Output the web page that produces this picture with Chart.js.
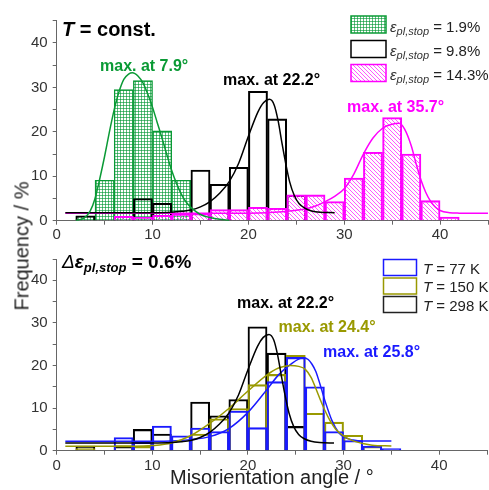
<!DOCTYPE html>
<html><head><meta charset="utf-8">
<script src="https://cdn.jsdelivr.net/npm/chart.js@4.4.0/dist/chart.umd.min.js"></script>
<style>
html,body{margin:0;padding:0;background:#fff;width:489px;height:490px;overflow:hidden}
#wrap{position:relative;width:489px;height:490px}
#c1{position:absolute;left:0;top:0;width:489px;height:245px}
#c2{position:absolute;left:0;top:245px;width:489px;height:245px}
#ytitle{position:absolute;left:22px;top:246px;transform:translate(-50%,-50%) rotate(-90deg);font:20px "Liberation Sans",Arial,sans-serif;color:#222;white-space:nowrap}
</style></head>
<body><div id="wrap">
<canvas id="c1" width="489" height="245"></canvas>
<canvas id="c2" width="489" height="245"></canvas>
<div id="ytitle">Frequency / %</div>
</div>
<script>
// ---------- DATA ----------
const binCenters = [1,3,5,7,9,11,13,15,17,19,21,23,25,27,29,31,33,35,37,39,41];
// top panel (T = const.)
const green1_9  = [null,1.0,9.1,29.5,31.5,20.2,9.1,null,null,null,null,null,null,null,null,null,null,null,null,null,null];
const black9_8  = [null,1.1,null,1.0,5.0,3.9,null,11.4,8.2,12.0,29.1,22.9,5.7,null,null,null,null,null,null,null,null];
const mag14_3   = [null,null,null,1.0,0.8,1.2,1.5,1.6,2.5,2.5,3.0,2.8,5.8,5.8,4.3,9.6,15.4,23.2,15.0,4.5,0.8];
// bottom panel (delta eps = 0.6%)
const blue77    = [null,null,null,3.1,2.0,5.8,3.5,5.3,4.5,9.3,5.4,16.2,21.9,15.0,4.5,2.4,1.1,0.5,null,null,null];
const olive150  = [null,0.5,null,1.2,1.0,null,null,3.9,7.5,9.9,15.5,17.9,22.4,8.8,6.7,3.6,1.0,null,null,null,null];
const black298  = black9_8;

// fit curves
const greenFitX = [2.0,2.8,3.5,4.0,4.5,5.0,5.5,6.0,6.5,7.0,7.5,7.9,8.5,9.0,9.5,10.0,10.5,11.0,11.5,12.0,12.5,13.0,13.5,14.0,14.5,15.0,16.0,17.0,18.0];
const greenFitY = [0.1,0.5,2.2,5.0,9.5,14.5,20.0,25.0,29.0,31.8,33.0,33.3,32.5,31.0,28.5,25.5,22.0,18.5,14.8,11.3,8.4,6.0,4.2,3.0,2.1,1.4,0.7,0.3,0.1];
const blackFitX = [0.9,5,10,12,13,14,15,16,17,18,19,20,21,21.6,22.2,22.7,23.1,23.5,23.9,24.3,24.8,25.3,25.9,26.6,27.5,29.0];
const blackFitY = [1.8,1.8,1.8,1.9,2.1,2.4,3.1,4.3,6.2,8.8,13.0,19.0,24.5,26.6,27.3,26.0,22.5,17.5,12.8,8.8,5.6,3.8,2.8,2.2,1.9,1.8];
const magFitX   = [0.9,10,20,22,24,26,27,28,29,30,31,32,33,34,35,35.7,36.3,37,37.5,38,38.5,39,39.5,40,41,42,45];
const magFitY   = [1.65,1.65,1.7,1.8,2.1,2.7,3.3,4.3,5.5,7.2,10.5,15.0,18.6,20.8,21.7,21.9,20.6,16.8,12.8,9.2,6.4,4.4,3.1,2.3,1.8,1.7,1.65];
const blueFitX  = [0.9,8,12,14,16,18,20,22,23.2,24.6,25.3,25.8,26.3,26.7,27.1,27.4,28.1,28.8,29.5,30.2,31,32,35];
const blueFitY  = [2.2,2.2,2.3,2.6,3.3,5.2,9.0,14.4,17.8,20.5,21.5,21.8,21.4,20.3,18.6,16.6,11.4,7.0,4.2,3.0,2.5,2.3,2.3];
const oliveFitX = [0.9,8,10,12,14,16,18,20,22,23.2,24.4,25.3,26.0,26.6,27.1,27.6,28.1,28.6,29.2,30,31,32,33,35];
const oliveFitY = [1.05,1.05,1.2,1.8,3.5,6.4,9.9,14.0,17.8,19.4,20.0,19.8,19.1,17.2,14.6,11.8,9.2,7.0,5.0,3.5,2.3,1.7,1.3,1.1];

const xTicksMajor = [0,10,20,30,40];
const yTicksMajor = [0,10,20,30,40];

// ---------- STYLE ----------
const FONT = '"Liberation Sans", Arial, Helvetica, sans-serif';
const GREEN = '#0a9a35', MAG = '#ff00ff', BLUE = '#1a1aff', OLIVE = '#999900', BLACK = '#000';
Chart.defaults.font.family = FONT;

function pts(xs, ys){ return xs.map((x,i)=>({x:x, y:ys[i]})); }
function bars(vals){ return binCenters.map((c,i)=>({x:c, y:vals[i]})); }

function gridPattern(ctx){
  const c=document.createElement('canvas'); c.width=3; c.height=3;
  const g=c.getContext('2d');
  g.fillStyle='#ffffff'; g.fillRect(0,0,3,3);
  g.fillStyle='rgba(0,150,50,0.62)'; g.fillRect(0,0,3,1); g.fillRect(0,0,1,3);
  return ctx.createPattern(c,'repeat');
}
function hatchPattern(ctx){
  const c=document.createElement('canvas'); c.width=4; c.height=4;
  const g=c.getContext('2d');
  g.fillStyle='rgba(255,60,255,0.85)';
  for(let i=0;i<4;i++) g.fillRect(i,i,1,1);
  return ctx.createPattern(c,'repeat');
}

function barDs(vals, color, bg, order){
  return {type:'bar', data:bars(vals), backgroundColor:bg, borderColor:color, borderWidth:1.4,
    borderSkipped:'start', grouped:false, barPercentage:1, categoryPercentage:1, order:order};
}
function lineDs(xs, ys, color){
  return {type:'line', data:pts(xs,ys), borderColor:color, borderWidth:1.5, pointRadius:0,
    cubicInterpolationMode:'monotone', fill:false, order:0};
}

function scales(xAxisH, xTitle, tickPad){
  return {
    x:{type:'linear', min:0, max:45, offset:false,
       afterFit(s){ s.height = xAxisH; },
       ticks:{stepSize:5, includeBounds:false, autoSkip:false, maxRotation:0, padding:tickPad,
              color:'#333', font:{size:15, family:FONT},
              callback:v=> xTicksMajor.includes(v) ? String(v) : ''},
       grid:{drawOnChartArea:false, offset:false, tickLength:4, tickColor:'#666', tickWidth:1},
       border:{display:true, color:'#666', width:1},
       title:{display:!!xTitle, text:xTitle||'', color:'#222', font:{size:20, family:FONT}, padding:0}},
    y:{min:0, max:45,
       afterFit(s){ s.width = 56.7; },
       ticks:{stepSize:5, includeBounds:false, autoSkip:false, padding:5, color:'#333', font:{size:15, family:FONT},
              callback:v=> yTicksMajor.includes(v) ? String(v) : ''},
       grid:{drawOnChartArea:false, tickLength:4, tickColor:'#666', tickWidth:1},
       border:{display:true, color:'#666', width:1}}
  };
}

function rich(ctx, x, y, parts){
  let cx = x;
  ctx.textAlign='left'; ctx.textBaseline='alphabetic';
  for(const p of parts){
    ctx.font = p[1] + ' ' + FONT;
    ctx.fillStyle = p[2];
    ctx.fillText(p[0], cx, y + (p[3]||0));
    cx += ctx.measureText(p[0]).width;
  }
}

// ---------- TOP CHART ----------
const ctx1 = document.getElementById('c1').getContext('2d');
const gPat = gridPattern(ctx1), mPat = hatchPattern(ctx1);
const annotTop = {id:'annotTop', afterDraw(chart){
  const c = chart.ctx; c.save();
  rich(c, 62, 35.5, [['T','italic bold 20px',BLACK],[' = const.','bold 20px',BLACK]]);
  rich(c, 100, 70.5, [['max. at 7.9°','bold 16px',GREEN]]);
  rich(c, 223, 85, [['max. at 22.2°','bold 16px',BLACK]]);
  rich(c, 347, 111.5, [['max. at 35.7°','bold 16px',MAG]]);
  const rows = [[16, gPat, GREEN, '1.9%'], [40.5, null, BLACK, '9.8%'], [64.5, mPat, MAG, '14.3%']];
  for(const r of rows){
    if(r[1]){ c.fillStyle=r[1]; c.fillRect(351, r[0], 35, 17); }
    c.strokeStyle=r[2]; c.lineWidth=1.5; c.strokeRect(351, r[0], 35, 17);
    rich(c, 390, r[0]+15.5, [['ε','italic 15px','#333'],['pl,stop','italic 11px','#333',3],[' = '+r[3],'15px','#222']]);
  }
  c.restore();
}};
new Chart(ctx1, {
  type:'bar',
  data:{datasets:[
    lineDs(greenFitX, greenFitY, GREEN),
    lineDs(blackFitX, blackFitY, BLACK),
    lineDs(magFitX, magFitY, MAG),
    barDs(mag14_3, MAG, mPat, 1),
    barDs(black9_8, BLACK, 'rgba(0,0,0,0)', 2),
    barDs(green1_9, GREEN, gPat, 3)
  ]},
  options:{responsive:false, animation:false, devicePixelRatio:1,
    layout:{padding:{top:20.7, left:0, right:0, bottom:0}},
    plugins:{legend:{display:false}, tooltip:{enabled:false}, title:{display:false}},
    scales:scales(24.3, null, 1)},
  plugins:[annotTop]
});

// ---------- BOTTOM CHART ----------
const ctx2 = document.getElementById('c2').getContext('2d');
const OFF = 245;
const annotBot = {id:'annotBot', afterDraw(chart){
  const c = chart.ctx; c.save();
  rich(c, 62, 268.3-OFF, [['Δ','italic 19px',BLACK],['ε','italic bold 19px',BLACK],['pl,stop','italic bold 13px',BLACK,4],[' = 0.6%','bold 19px',BLACK]]);
  rich(c, 237, 307.5-OFF, [['max. at 22.2°','bold 16px',BLACK]]);
  rich(c, 278.5, 331.5-OFF, [['max. at 24.4°','bold 16px',OLIVE]]);
  rich(c, 323, 357-OFF, [['max. at 25.8°','bold 16px',BLUE]]);
  const rows = [[259.5, BLUE, '77 K'], [278, OLIVE, '150 K'], [296.5, '#222', '298 K']];
  for(const r of rows){
    c.strokeStyle=r[1]; c.lineWidth=1.5; c.strokeRect(383.5, r[0]-OFF, 33, 16);
    rich(c, 423, r[0]-OFF+14, [['T','italic 15px','#222'],[' = '+r[2],'15px','#222']]);
  }
  c.restore();
}};
new Chart(ctx2, {
  type:'bar',
  data:{datasets:[
    lineDs(blackFitX, blackFitY, BLACK),
    lineDs(oliveFitX, oliveFitY, OLIVE),
    lineDs(blueFitX, blueFitY, BLUE),
    barDs(blue77, BLUE, 'rgba(0,0,0,0)', 1),
    barDs(olive150, OLIVE, 'rgba(0,0,0,0)', 2),
    barDs(black298, BLACK, 'rgba(0,0,0,0)', 3)
  ]},
  options:{responsive:false, animation:false, devicePixelRatio:1,
    layout:{padding:{top:5.7, left:0, right:0, bottom:0}},
    plugins:{legend:{display:false}, tooltip:{enabled:false}, title:{display:false}},
    scales:scales(39.3, 'Misorientation angle / °', 2)},
  plugins:[annotBot]
});
</script>
</body></html>
